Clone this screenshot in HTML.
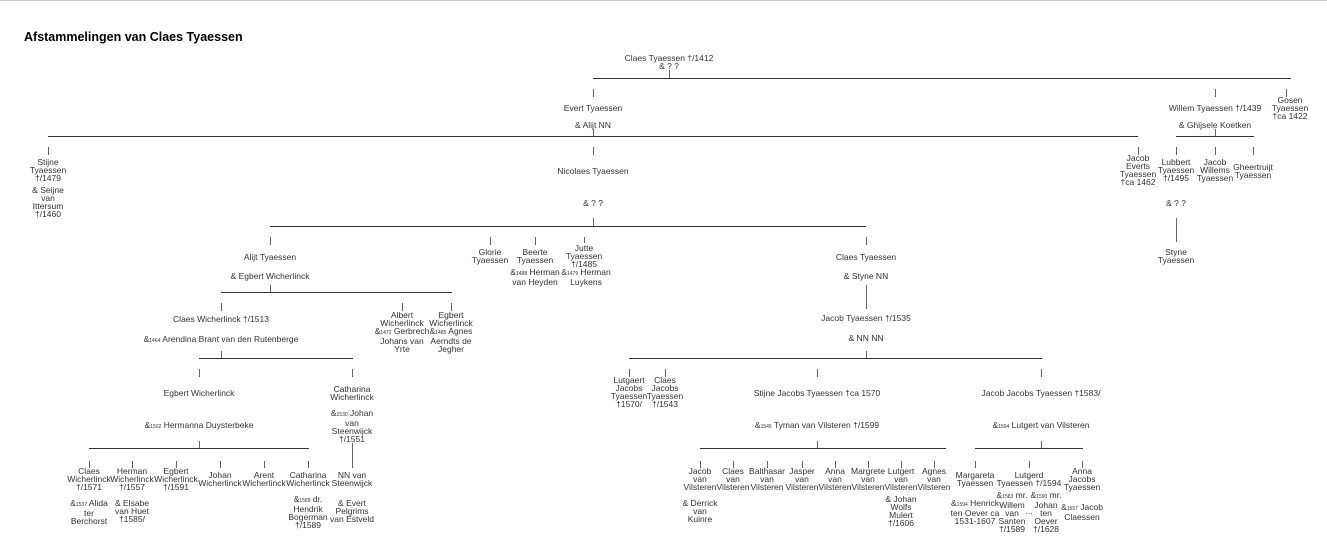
<!DOCTYPE html>
<html><head><meta charset="utf-8"><style>
body{margin:0;width:1327px;height:552px;background:#fff;position:relative;overflow:hidden;font-family:"Liberation Sans",Arial,sans-serif;color:#333}
.c{position:absolute;transform:translateX(-50%);white-space:nowrap;text-align:center;font-size:8.5px;line-height:8px}
.c small{font-size:5px}
.v{position:absolute;width:1px;background:#666}
.h{position:absolute;height:1px;background:#333}
#top{position:absolute;left:0;top:0;width:1327px;height:1px;background:#ccc}
#title{position:absolute;left:24px;top:30px;font-weight:bold;font-size:12.5px;color:#000}
</style></head><body>
<div id="top"></div>
<div id="title">Afstammelingen van Claes Tyaessen</div>

<div class="c" style="left:669px;top:54px">Claes Tyaessen †/1412<br>&amp; ? ?</div>
<div class="v" style="left:669px;top:70px;height:8px"></div>
<div class="h" style="left:593px;top:78px;width:698px"></div>
<div class="v" style="left:593px;top:89px;height:8px"></div>
<div class="v" style="left:1215px;top:89px;height:8px"></div>
<div class="v" style="left:1286px;top:89px;height:8px"></div>

<div class="c" style="left:593px;top:104px">Evert Tyaessen</div>
<div class="c" style="left:593px;top:121px">&amp; Alijt NN</div>
<div class="v" style="left:593px;top:129px;height:7px"></div>
<div class="h" style="left:48px;top:136px;width:1090px"></div>
<div class="c" style="left:1215px;top:104px">Willem Tyaessen †/1439</div>
<div class="c" style="left:1215px;top:121px">&amp; Ghijsele Koetken</div>
<div class="v" style="left:1215px;top:129px;height:7px"></div>
<div class="h" style="left:1176px;top:136px;width:78px"></div>
<div class="c" style="left:1290px;top:96px">Gosen<br>Tyaessen<br>†ca 1422</div>

<div class="v" style="left:48px;top:147px;height:8px"></div>
<div class="v" style="left:593px;top:147px;height:8px"></div>
<div class="v" style="left:1138px;top:147px;height:8px"></div>
<div class="v" style="left:1176px;top:147px;height:8px"></div>
<div class="v" style="left:1215px;top:147px;height:8px"></div>
<div class="v" style="left:1253px;top:147px;height:8px"></div>

<div class="c" style="left:48px;top:158px">Stijne<br>Tyaessen<br>†/1479</div>
<div class="c" style="left:48px;top:186px">&amp; Seijne<br>van<br>Ittersum<br>†/1460</div>
<div class="c" style="left:593px;top:167px">Nicolaes Tyaessen</div>
<div class="c" style="left:593px;top:199px">&amp; ? ?</div>
<div class="v" style="left:593px;top:218px;height:8px"></div>
<div class="h" style="left:270px;top:226px;width:596px"></div>
<div class="c" style="left:1138px;top:154px">Jacob<br>Everts<br>Tyaessen<br>†ca 1462</div>
<div class="c" style="left:1176px;top:158px">Lubbert<br>Tyaessen<br>†/1495</div>
<div class="c" style="left:1176px;top:199px">&amp; ? ?</div>
<div class="v" style="left:1176px;top:218px;height:24px"></div>
<div class="c" style="left:1176px;top:248px">Styne<br>Tyaessen</div>
<div class="c" style="left:1215px;top:158px">Jacob<br>Willems<br>Tyaessen</div>
<div class="c" style="left:1253px;top:163px">Gheertruijt<br>Tyaessen</div>

<div class="v" style="left:270px;top:237px;height:8px"></div>
<div class="v" style="left:490px;top:237px;height:8px"></div>
<div class="v" style="left:535px;top:237px;height:8px"></div>
<div class="v" style="left:584px;top:237px;height:6px"></div>
<div class="v" style="left:866px;top:237px;height:8px"></div>

<div class="c" style="left:270px;top:253px">Alijt Tyaessen</div>
<div class="c" style="left:270px;top:272px">&amp; Egbert Wicherlinck</div>
<div class="v" style="left:270px;top:285px;height:7px"></div>
<div class="h" style="left:221px;top:292px;width:231px"></div>
<div class="c" style="left:490px;top:248px">Glorie<br>Tyaessen</div>
<div class="c" style="left:535px;top:248px">Beerte<br>Tyaessen</div>
<div class="c" style="left:535px;top:268px">&amp;<small>1488</small> Herman<br>van Heyden</div>
<div class="c" style="left:584px;top:244px">Jutte<br>Tyaessen<br>†/1485</div>
<div class="c" style="left:586px;top:268px">&amp;<small>1479</small> Herman<br>Luykens</div>
<div class="c" style="left:866px;top:253px">Claes Tyaessen</div>
<div class="c" style="left:866px;top:272px">&amp; Styne NN</div>
<div class="v" style="left:866px;top:285px;height:24px"></div>
<div class="c" style="left:866px;top:314px">Jacob Tyaessen †/1535</div>
<div class="c" style="left:866px;top:334px">&amp; NN NN</div>
<div class="v" style="left:866px;top:351px;height:7px"></div>
<div class="h" style="left:629px;top:358px;width:413px"></div>

<div class="v" style="left:221px;top:303px;height:8px"></div>
<div class="v" style="left:402px;top:303px;height:8px"></div>
<div class="v" style="left:451px;top:303px;height:8px"></div>
<div class="c" style="left:221px;top:315px">Claes Wicherlinck †/1513</div>
<div class="c" style="left:221px;top:335px">&amp;<small>1464</small> Arendina Brant van den Rutenberge</div>
<div class="v" style="left:221px;top:351px;height:7px"></div>
<div class="h" style="left:199px;top:358px;width:154px"></div>
<div class="c" style="left:402px;top:311px">Albert<br>Wicherlinck<br>&amp;<small>1472</small> Gerbrech<br>Johans van<br>Yrte</div>
<div class="c" style="left:451px;top:311px">Egbert<br>Wicherlinck<br>&amp;<small>1485</small> Agnes<br>Aerndts de<br>Jegher</div>

<div class="v" style="left:199px;top:369px;height:8px"></div>
<div class="v" style="left:352px;top:369px;height:8px"></div>
<div class="c" style="left:199px;top:389px">Egbert Wicherlinck</div>
<div class="c" style="left:199px;top:421px">&amp;<small>1502</small> Hermanna Duysterbeke</div>
<div class="v" style="left:199px;top:441px;height:7px"></div>
<div class="h" style="left:89px;top:448px;width:220px"></div>
<div class="c" style="left:352px;top:385px">Catharina<br>Wicherlinck</div>
<div class="c" style="left:352px;top:409px">&amp;<small>1530</small> Johan<br>van<br>Steenwijck<br>†/1551</div>
<div class="v" style="left:352px;top:443px;height:25px"></div>

<div class="v" style="left:89px;top:461px;height:7px"></div>
<div class="v" style="left:132px;top:461px;height:7px"></div>
<div class="v" style="left:176px;top:461px;height:7px"></div>
<div class="v" style="left:220px;top:461px;height:7px"></div>
<div class="v" style="left:264px;top:461px;height:7px"></div>
<div class="v" style="left:308px;top:461px;height:7px"></div>
<div class="c" style="left:89px;top:467px">Claes<br>Wicherlinck<br>†/1571</div>
<div class="c" style="left:89px;top:499px">&amp;<small>1537</small> Alida<br>ter<br>Berchorst</div>
<div class="c" style="left:132px;top:467px">Herman<br>Wicherlinck<br>†/1557</div>
<div class="c" style="left:132px;top:499px">&amp; Elsabe<br>van Huet<br>†1585/</div>
<div class="c" style="left:176px;top:467px">Egbert<br>Wicherlinck<br>†/1591</div>
<div class="c" style="left:220px;top:471px">Johan<br>Wicherlinck</div>
<div class="c" style="left:264px;top:471px">Arent<br>Wicherlinck</div>
<div class="c" style="left:308px;top:471px">Catharina<br>Wicherlinck</div>
<div class="c" style="left:308px;top:495px">&amp;<small>1589</small> dr.<br>Hendrik<br>Bogerman<br>†/1589</div>
<div class="c" style="left:352px;top:471px">NN van<br>Steenwijck</div>
<div class="c" style="left:352px;top:499px">&amp; Evert<br>Pelgrims<br>van Estveld</div>

<div class="v" style="left:629px;top:369px;height:8px"></div>
<div class="v" style="left:665px;top:369px;height:8px"></div>
<div class="v" style="left:817px;top:369px;height:8px"></div>
<div class="v" style="left:1041px;top:369px;height:8px"></div>
<div class="c" style="left:629px;top:376px">Lutgaert<br>Jacobs<br>Tyaessen<br>†1570/</div>
<div class="c" style="left:665px;top:376px">Claes<br>Jacobs<br>Tyaessen<br>†/1543</div>
<div class="c" style="left:817px;top:389px">Stijne Jacobs Tyaessen †ca 1570</div>
<div class="c" style="left:817px;top:421px">&amp;<small>1545</small> Tyman van Vilsteren †/1599</div>
<div class="v" style="left:817px;top:441px;height:7px"></div>
<div class="h" style="left:700px;top:448px;width:246px"></div>
<div class="c" style="left:1041px;top:389px">Jacob Jacobs Tyaessen †1583/</div>
<div class="c" style="left:1041px;top:421px">&amp;<small>1594</small> Lutgert van Vilsteren</div>
<div class="v" style="left:1041px;top:441px;height:7px"></div>
<div class="h" style="left:975px;top:448px;width:108px"></div>

<div class="v" style="left:700px;top:461px;height:7px"></div>
<div class="v" style="left:733px;top:461px;height:7px"></div>
<div class="v" style="left:767px;top:461px;height:7px"></div>
<div class="v" style="left:802px;top:461px;height:7px"></div>
<div class="v" style="left:835px;top:461px;height:7px"></div>
<div class="v" style="left:868px;top:461px;height:7px"></div>
<div class="v" style="left:901px;top:461px;height:7px"></div>
<div class="v" style="left:934px;top:461px;height:7px"></div>
<div class="v" style="left:975px;top:461px;height:7px"></div>
<div class="v" style="left:1029px;top:461px;height:7px"></div>
<div class="v" style="left:1082px;top:461px;height:7px"></div>
<div class="c" style="left:700px;top:467px">Jacob<br>van<br>Vilsteren</div>
<div class="c" style="left:700px;top:499px">&amp; Derrick<br>van<br>Kuinre</div>
<div class="c" style="left:733px;top:467px">Claes<br>van<br>Vilsteren</div>
<div class="c" style="left:767px;top:467px">Balthasar<br>van<br>Vilsteren</div>
<div class="c" style="left:802px;top:467px">Jasper<br>van<br>Vilsteren</div>
<div class="c" style="left:835px;top:467px">Anna<br>van<br>Vilsteren</div>
<div class="c" style="left:868px;top:467px">Margrete<br>van<br>Vilsteren</div>
<div class="c" style="left:901px;top:467px">Lutgert<br>van<br>Vilsteren</div>
<div class="c" style="left:901px;top:495px">&amp; Johan<br>Wolfs<br>Mulert<br>†/1606</div>
<div class="c" style="left:934px;top:467px">Agnes<br>van<br>Vilsteren</div>
<div class="c" style="left:975px;top:471px">Margareta<br>Tyaessen</div>
<div class="c" style="left:975px;top:499px">&amp;<small>1594</small> Henrick<br>ten Oever ca<br>1531-1607</div>
<div class="c" style="left:1029px;top:471px">Lutgerd<br>Tyaessen †/1594</div>
<div class="c" style="left:1012px;top:491px">&amp;<small>1583</small> mr.<br>Willem<br>van<br>Santen<br>†/1589</div>
<div class="c" style="left:1029px;top:507px">...</div>
<div class="c" style="left:1046px;top:491px">&amp;<small>1590</small> mr.<br>Johan<br>ten<br>Oever<br>†/1628</div>
<div class="c" style="left:1082px;top:467px">Anna<br>Jacobs<br>Tyaessen</div>
<div class="c" style="left:1082px;top:503px">&amp;<small>1597</small> Jacob<br>Claessen</div>
</body></html>
